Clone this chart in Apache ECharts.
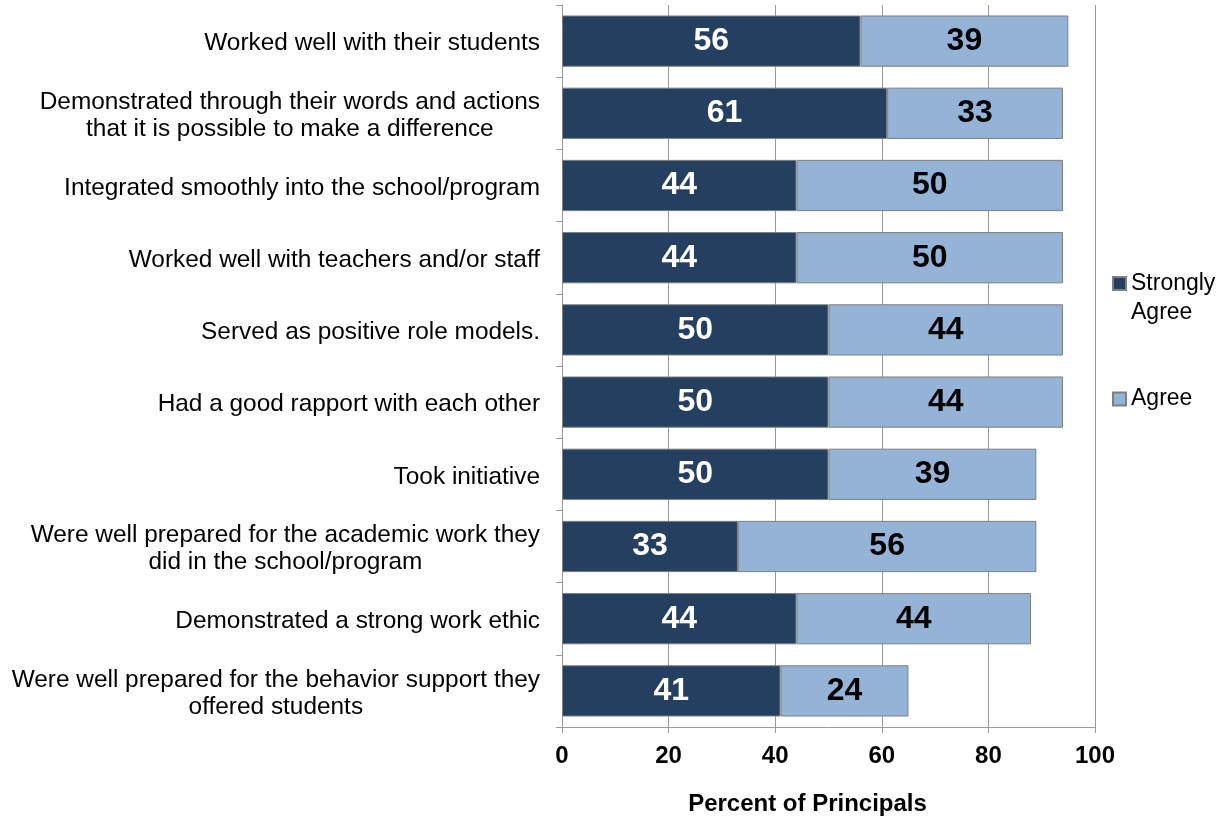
<!DOCTYPE html>
<html>
<head>
<meta charset="utf-8">
<script src="https://cdn.jsdelivr.net/npm/echarts@6/dist/echarts.min.js"></script>
<style>
  html, body { margin: 0; padding: 0; background: #fff; }
  #chart { width: 1229px; height: 816px; }
</style>
</head>
<body>
<div id="chart"></div>
<script>
// Survey items, top to bottom
const categories = [
  'Worked well with their students',
  'Demonstrated through their words and actions\nthat it is possible to make a difference',
  'Integrated smoothly into the school/program',
  'Worked well with teachers and/or staff',
  'Served as positive role models.',
  'Had a good rapport with each other',
  'Took initiative',
  'Were well prepared for the academic work they\ndid in the school/program',
  'Demonstrated a strong work ethic',
  'Were well prepared for the behavior support they\noffered students'
];
const stronglyAgree = [56, 61, 44, 44, 50, 50, 50, 33, 44, 41];
const agree = [39, 33, 50, 50, 44, 44, 39, 56, 44, 24];
const xTicks = [0, 20, 40, 60, 80, 100];

const FONT = '"Liberation Sans", Arial, sans-serif';
const DARK = '#243F60';
const LIGHT = '#95B3D7';
const GRAYLINE = '#9a9a9a';

const chart = echarts.init(document.getElementById('chart'), null, { renderer: 'canvas' });

chart.setOption({
  animation: false,
  backgroundColor: '#fff',
  textStyle: { fontFamily: FONT },
  grid: { left: 562, right: 134, top: 5, bottom: 89, containLabel: false, outerBoundsMode: 'none' },
  legend: [
    {
      // leading blank line keeps the swatch level with the first text line
      data: ['Strongly Agree'],
      orient: 'vertical',
      left: 1112,
      top: 240,
      padding: 0,
      itemWidth: 13,
      itemHeight: 13,
      icon: 'rect',
      selectedMode: false,
      formatter: () => '\u00a0\nStrongly\nAgree',
      textStyle: { fontFamily: FONT, fontSize: 23, color: '#000', lineHeight: 29 }
    },
    {
      data: ['Agree'],
      orient: 'vertical',
      left: 1112,
      top: 385,
      padding: 0,
      itemWidth: 13,
      itemHeight: 13,
      icon: 'rect',
      selectedMode: false,
      textStyle: { fontFamily: FONT, fontSize: 23, color: '#000', lineHeight: 28 }
    }
  ],
  xAxis: {
    type: 'value',
    min: 0,
    max: 100,
    interval: 20,
    name: 'Percent of Principals',
    nameLocation: 'middle',
    nameGap: 65,
    nameTextStyle: { fontFamily: FONT, fontSize: 24, fontWeight: 'bold', color: '#000', padding: [0, 42, 0, 0] },
    axisLine: { show: true, lineStyle: { color: GRAYLINE, width: 1 } },
    axisTick: { show: true, length: 6, lineStyle: { color: GRAYLINE } },
    axisLabel: {
      margin: 17,
      fontFamily: FONT, fontSize: 24, fontWeight: 'bold', color: '#000',
      formatter: v => (xTicks.indexOf(v) >= 0 ? String(v) : '')
    },
    splitLine: { show: true, lineStyle: { color: GRAYLINE, width: 1 } }
  },
  yAxis: {
    type: 'category',
    inverse: true,
    data: categories,
    axisLine: { show: true, lineStyle: { color: GRAYLINE, width: 1 } },
    axisTick: { show: true, length: 6, lineStyle: { color: GRAYLINE } },
    axisLabel: {
      margin: 22,
      color: '#000',
      fontFamily: FONT,
      fontSize: 24.4,
      lineHeight: 27,
      padding: [5, 0, 0, 0],
      formatter: v => v.split('\n').map(s => '{c|' + s + '}').join('\n'),
      rich: { c: { align: 'center', fontFamily: FONT, fontSize: 24.4, lineHeight: 27, color: '#000' } }
    },
    splitLine: { show: false }
  },
  series: [
    {
      name: 'Strongly Agree',
      type: 'bar',
      stack: 'total',
      data: stronglyAgree,
      barCategoryGap: '29%',
      itemStyle: { color: DARK, borderColor: '#7f7f7f', borderWidth: 1 },
      label: { show: true, position: 'inside', color: '#fff', fontFamily: FONT, fontSize: 32, fontWeight: 'bold' }
    },
    {
      name: 'Agree',
      type: 'bar',
      stack: 'total',
      data: agree,
      barCategoryGap: '29%',
      itemStyle: { color: LIGHT, borderColor: '#7f7f7f', borderWidth: 1 },
      label: { show: true, position: 'inside', color: '#000', fontFamily: FONT, fontSize: 32, fontWeight: 'bold' }
    }
  ]
});
</script>
</body>
</html>
